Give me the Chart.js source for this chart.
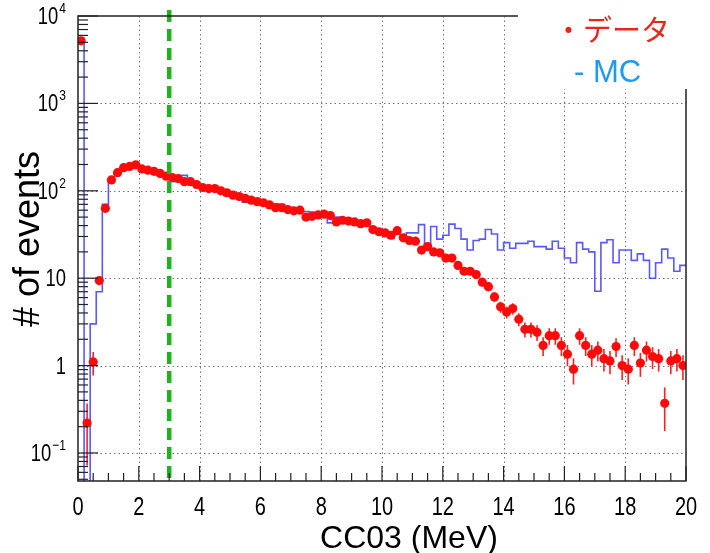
<!DOCTYPE html>
<html>
<head>
<meta charset="utf-8">
<script src="https://cdn.jsdelivr.net/npm/chart.js@4.4.1/dist/chart.umd.min.js"></script>
<style>
  html, body { margin: 0; padding: 0; background: #fff; }
  #wrap { width: 710px; height: 553px; position: relative; }
</style>
</head>
<body>
<div id="wrap"><canvas id="chart"></canvas></div>
<script>
// ---------- DATA ----------
// 100 bins of 0.2 MeV from 0 to 20
const binLow = 0;
const binWidth = 0.2;

// data (red points), one value per bin
const dataCounts = [
  5200, 0.22, 1.1, 9.4, 63, 133, 161, 184, 190, 198,
  178, 172, 167, 158, 147, 142, 138, 127, 127, 118,
  109, 106, 106, 100, 95, 89, 86, 82, 78, 75,
  73, 69, 64, 64, 61, 59, 60, 50, 51, 53,
  54, 52, 44, 46, 45, 44, 42, 43, 36, 34,
  33, 31, 35, 29, 27, 26.5, 21, 23, 20, 19.5,
  17, 17, 14, 12, 12, 11, 9, 8, 6.1, 4.7,
  4.1, 4.5, 3.4, 2.6, 2.6, 2.4, 1.7, 2.2, 2.2, 1.7,
  1.35, 0.91, 2.2, 1.7, 1.35, 1.5, 1.2, 1.13, 1.65, 1.0,
  0.91, 1.7, 1.07, 1.5, 1.27, 1.2, 0.37, 1.13, 1.2, 1.0
];

// MC (blue histogram), one value per bin
const mcCounts = [
  5560, 0, 3.0, 7.0, 70, 133, 165, 178, 190, 200,
  182, 172, 160, 158, 145, 127, 132, 150, 118, 118,
  110, 108, 102, 100, 88, 95, 92, 74, 82, 80,
  76, 68, 71, 70, 60, 60, 62, 58, 57, 57,
  56, 43, 50, 46, 46, 44, 39, 44, 36, 33,
  34, 28.5, 32, 31, 33, 33, 41, 24, 39, 28,
  31, 41.5, 37, 28, 21, 27, 28, 36, 32, 21,
  25.5, 22, 25, 25, 26.5, 23, 23, 21.5, 26.5, 22,
  17, 15, 25.5, 21.5, 20, 7.1, 25.5, 27.5, 15, 21,
  21, 16, 19, 16, 10, 15, 21.5, 17, 12, 14
];

// error scale of the weighted data points
const errScale = 0.1;

// axes
const xMin = 0, xMax = 20;
const yMin = 0.0478, yMax = 10000;
const xTickLabels = [0, 2, 4, 6, 8, 10, 12, 14, 16, 18, 20];
const yDecades = [-1, 0, 1, 2, 3, 4];
const cutValue = 3; // green dashed line

const xTitle = "CC03 (MeV)";
const yTitle = "# of events";
const legendData = "・データ";
const legendMC = "- MC";

// ---------- DATASETS ----------
const dataPoints = dataCounts.map((v, i) => ({ x: binLow + binWidth * (i + 0.5), y: v }));
const mcSteps = mcCounts.map((v, i) => ({ x: binLow + binWidth * i, y: v > 0 ? v : 1e-4 }));
mcSteps.push({ x: xMax, y: mcCounts[mcCounts.length - 1] });

const SANS = "'Liberation Sans', Arial, Helvetica, sans-serif";
const JP = "'Noto Sans CJK JP', 'Noto Sans', sans-serif";
const NARROW = 0.8; // ROOT labels look condensed

function line(ctx, x1, y1, x2, y2) {
  ctx.beginPath(); ctx.moveTo(x1, y1); ctx.lineTo(x2, y2); ctx.stroke();
}

// text squeezed horizontally, anchored at (x, y) with given align
function narrowText(ctx, txt, x, y, align) {
  const w = ctx.measureText(txt).width * NARROW;
  let left = x;
  if (align === "center") left = x - w / 2;
  else if (align === "right") left = x - w;
  ctx.save();
  ctx.textAlign = "left";
  ctx.translate(left, y);
  ctx.scale(NARROW, 1);
  ctx.fillText(txt, 0, 0);
  ctx.restore();
  return w;
}

const rootStyle = {
  id: "rootStyle",
  beforeDatasetsDraw(chart) {
    const { ctx, chartArea: a, scales: { x, y } } = chart;
    ctx.save();
    // dotted grid
    ctx.strokeStyle = "#777";
    ctx.lineWidth = 1;
    ctx.setLineDash([1.5, 3]);
    xTickLabels.forEach(v => {
      if (v <= xMin || v >= xMax) return;
      const px = Math.round(x.getPixelForValue(v)) + 0.5;
      line(ctx, px, a.top, px, a.bottom);
    });
    yDecades.forEach(e => {
      const py = Math.round(y.getPixelForValue(Math.pow(10, e))) + 0.5;
      if (py <= a.top + 1) return;
      line(ctx, a.left, py, a.right, py);
    });
    ctx.setLineDash([]);
    // error bars of the data
    ctx.beginPath();
    ctx.rect(a.left, a.top, a.right - a.left, a.bottom - a.top);
    ctx.clip();
    ctx.strokeStyle = "#ff2020";
    ctx.lineWidth = 1.6;
    dataPoints.forEach(p => {
      const e = Math.sqrt(p.y * errScale);
      const px = x.getPixelForValue(p.x);
      const top = y.getPixelForValue(p.y + e);
      const bot = p.y - e > 0 ? y.getPixelForValue(p.y - e) : a.bottom;
      line(ctx, px, top, px, bot);
    });
    ctx.restore();
  },
  afterDatasetsDraw(chart) {
    const { ctx, chartArea: a, scales: { x, y } } = chart;
    ctx.save();
    // cut line
    ctx.strokeStyle = "#1fb41f";
    ctx.lineWidth = 4.5;
    ctx.setLineDash([12, 7]);
    const cx = x.getPixelForValue(cutValue);
    line(ctx, cx, a.top - 6, cx, a.bottom);
    ctx.setLineDash([]);

    // frame
    ctx.strokeStyle = "#222";
    ctx.lineWidth = 1.5;
    ctx.strokeRect(a.left, a.top, a.right - a.left, a.bottom - a.top);

    // y ticks (left, inside)
    ctx.lineWidth = 1.2;
    for (let e = -2; e <= 4; e++) {
      for (let m = 1; m <= 9; m++) {
        const v = m * Math.pow(10, e);
        if (v < yMin || v > yMax) continue;
        const py = y.getPixelForValue(v);
        line(ctx, a.left, py, a.left + (m === 1 ? 20 : 10), py);
      }
    }
    // x ticks (bottom, inside)
    for (let t = xMin; t <= xMax + 1e-9; t += 0.5) {
      const px = x.getPixelForValue(t);
      const major = Math.abs(t / 2 - Math.round(t / 2)) < 1e-9;
      line(ctx, px, a.bottom, px, a.bottom - (major ? 15 : 8));
    }

    // x tick labels
    ctx.fillStyle = "#000";
    ctx.textBaseline = "alphabetic";
    ctx.font = "25px " + SANS;
    xTickLabels.forEach(v => {
      narrowText(ctx, String(v), x.getPixelForValue(v), a.bottom + 34, "center");
    });

    // y tick labels
    const rightEdge = a.left - 12;
    yDecades.forEach(e => {
      const py = y.getPixelForValue(Math.pow(10, e));
      const base = e === 0 ? "1" : "10";
      const sup = (e === 0 || e === 1) ? "" : (e < 0 ? "\u2212" + (-e) : String(e));
      ctx.font = "15px " + SANS;
      const sw = sup ? ctx.measureText(sup).width * NARROW : 0;
      ctx.font = "23px " + SANS;
      const bx = sup ? rightEdge - sw - 1 : rightEdge;
      narrowText(ctx, base, bx, py + 8, "right");
      if (sup) {
        ctx.font = "15px " + SANS;
        narrowText(ctx, sup, bx + 1, py - 3, "left");
      }
    });

    // legend box covering top right of the frame
    ctx.fillStyle = "#fff";
    ctx.fillRect(518, 0, 192, 89);
    ctx.textAlign = "left";
    ctx.textBaseline = "middle";
    ctx.font = "29px " + JP;
    ctx.fillStyle = "#e8261c";
    ctx.fillText(legendData, 554, 30);
    ctx.font = "31px " + SANS;
    ctx.fillStyle = "#1f9af0";
    ctx.fillText(legendMC, 574, 73);

    // axis titles
    ctx.textBaseline = "alphabetic";
    ctx.fillStyle = "#000";
    ctx.font = "32px " + SANS;
    ctx.textAlign = "center";
    ctx.fillText(xTitle, 409, 548);
    ctx.translate(39, 239);
    ctx.rotate(-Math.PI / 2);
    ctx.font = "36px " + SANS;
    ctx.fillText(yTitle, 0, 0);
    ctx.restore();
  }
};

new Chart(document.getElementById("chart"), {
  type: "scatter",
  data: {
    datasets: [
      {
        label: "data",
        data: dataPoints,
        pointRadius: 4.6,
        pointHoverRadius: 4.6,
        pointBackgroundColor: "#ff0a0a",
        pointBorderWidth: 0,
        showLine: false
      },
      {
        label: "MC",
        type: "line",
        data: mcSteps,
        stepped: "before",
        borderColor: "rgba(60,60,255,0.85)",
        borderWidth: 1.6,
        pointRadius: 0,
        fill: false
      }
    ]
  },
  options: {
    responsive: true,
    maintainAspectRatio: false,
    animation: false,
    layout: { padding: { left: 78, right: 24, top: 16, bottom: 72 } },
    plugins: { legend: { display: false }, tooltip: { enabled: false } },
    scales: {
      x: { type: "linear", min: xMin, max: xMax, display: false },
      y: { type: "logarithmic", min: yMin, max: yMax, display: false }
    }
  },
  plugins: [rootStyle]
});
</script>
</body>
</html>
